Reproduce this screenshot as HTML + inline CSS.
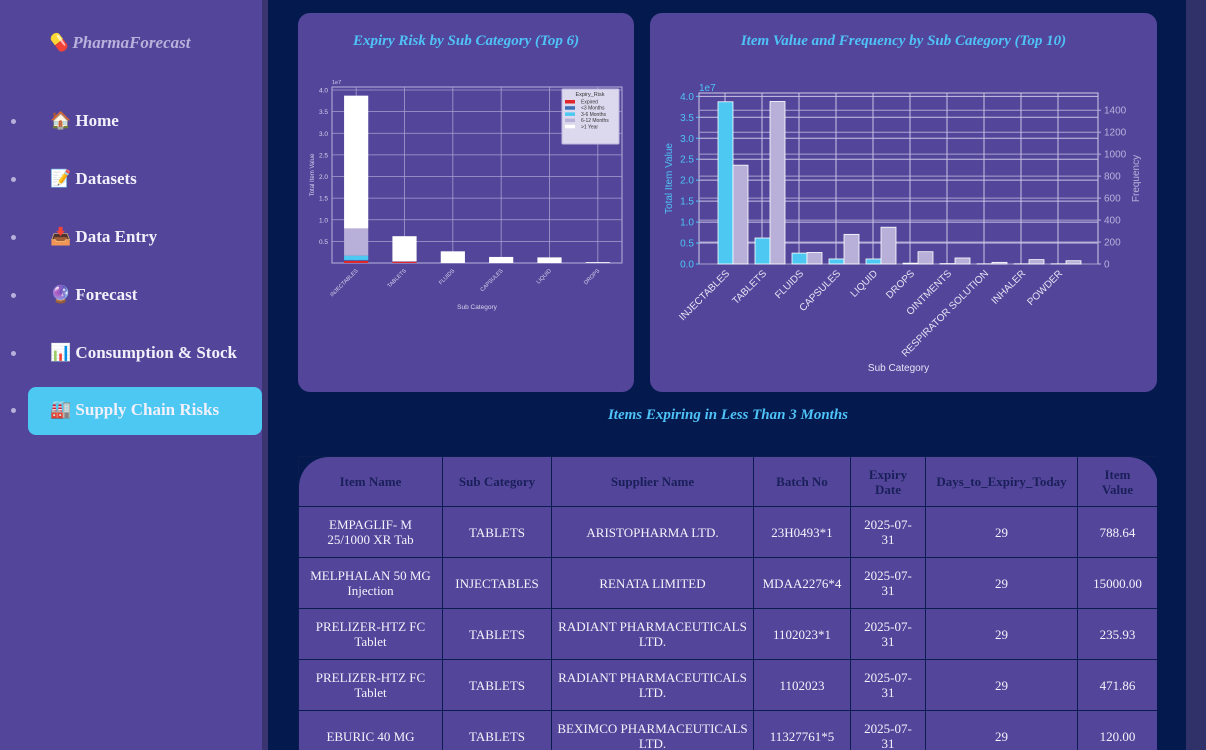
<!DOCTYPE html>
<html><head><meta charset="utf-8">
<style>
*{box-sizing:border-box;margin:0;padding:0}
html,body{width:1206px;height:750px;overflow:hidden}
body{background:#041a4f;font-family:"Liberation Serif","DejaVu Serif",serif;position:relative}
#sidebar{position:absolute;left:0;top:0;width:262px;height:750px;background:#53469a}
#divider{position:absolute;left:262px;top:0;width:6px;height:750px;background:#3a3570}
#rstrip{position:absolute;left:1186px;top:0;width:20px;height:750px;background:#2f3168}
.brand{position:absolute;left:47px;top:33px;font-size:17px;font-weight:bold;font-style:italic;color:#b9b0dc}
.nav{position:absolute;left:0;width:262px;height:48px;font-size:17px;color:#f2f0fa;font-weight:bold}
.nav .dot{position:absolute;left:11px;top:21px;width:5px;height:5px;border-radius:50%;background:#b9b0dc}
.nav .lbl{position:absolute;left:50px;top:13px;white-space:nowrap}
.nav.active .pill{position:absolute;left:28px;top:0;width:234px;height:48px;background:#4cc8f2;border-radius:8px}
.card{position:absolute;top:13px;height:379px;background:#53469a;border-radius:12px}
.ctitle{position:absolute;top:20px;width:100%;text-align:center;color:#4fc3f7;font-size:15px;font-weight:bold;font-style:italic}
svg text{font-family:"Liberation Sans",sans-serif}
#ttl{position:absolute;left:298px;width:860px;top:407px;text-align:center;color:#4fc3f7;font-weight:bold;font-style:italic;font-size:15px}
#tbl-wrap{position:absolute;left:298px;top:456px;width:859px;height:294px;overflow:hidden}
table{width:859px;border-collapse:collapse;table-layout:fixed;font-size:13px}
th,td{border:1.5px solid #0b1d4f;background:#53469a;text-align:center;vertical-align:middle;height:51px;line-height:15px;padding:0 2px}
th{color:#1a1f5a;font-weight:bold;height:50px}
td{color:#f4f2fb}
</style></head><body>
<div id="sidebar">
<div class="brand">💊 PharmaForecast</div>
<div class="nav" style="top:98px"><span class="dot"></span><span class="lbl">🏠 Home</span></div>
<div class="nav" style="top:156px"><span class="dot"></span><span class="lbl">📝 Datasets</span></div>
<div class="nav" style="top:214px"><span class="dot"></span><span class="lbl">📥 Data Entry</span></div>
<div class="nav" style="top:272px"><span class="dot"></span><span class="lbl">🔮 Forecast</span></div>
<div class="nav" style="top:330px"><span class="dot"></span><span class="lbl">📊 Consumption &amp; Stock</span></div>
<div class="nav active" style="top:387px"><span class="pill"></span><span class="dot"></span><span class="lbl" style="position:absolute">🏭 Supply Chain Risks</span></div>
</div>
<div id="divider"></div>
<div id="rstrip"></div>

<div class="card" style="left:298px;width:336px">
<div class="ctitle">Expiry Risk by Sub Category (Top 6)</div>
</div>
<div class="card" style="left:650px;width:507px">
<div class="ctitle">Item Value and Frequency by Sub Category (Top 10)</div>
</div>
<svg id="chart1" style="position:absolute;left:0;top:0" width="1206" height="400"></svg>

<div id="ttl">Items Expiring in Less Than 3 Months</div>
<div id="tbl-wrap">
<table>
<colgroup><col style="width:144px"><col style="width:109px"><col style="width:202px"><col style="width:97px"><col style="width:75px"><col style="width:152px"><col style="width:80px"></colgroup>
<tr><th style="border-top-left-radius:30px">Item Name</th><th>Sub Category</th><th>Supplier Name</th><th>Batch No</th><th>Expiry<br>Date</th><th>Days_to_Expiry_Today</th><th style="border-top-right-radius:30px">Item<br>Value</th></tr>
<tr><td>EMPAGLIF- M<br>25/1000 XR Tab</td><td>TABLETS</td><td>ARISTOPHARMA LTD.</td><td>23H0493*1</td><td>2025-07-<br>31</td><td>29</td><td>788.64</td></tr>
<tr><td>MELPHALAN 50 MG<br>Injection</td><td>INJECTABLES</td><td>RENATA LIMITED</td><td>MDAA2276*4</td><td>2025-07-<br>31</td><td>29</td><td>15000.00</td></tr>
<tr><td>PRELIZER-HTZ FC<br>Tablet</td><td>TABLETS</td><td>RADIANT PHARMACEUTICALS<br>LTD.</td><td>1102023*1</td><td>2025-07-<br>31</td><td>29</td><td>235.93</td></tr>
<tr><td>PRELIZER-HTZ FC<br>Tablet</td><td>TABLETS</td><td>RADIANT PHARMACEUTICALS<br>LTD.</td><td>1102023</td><td>2025-07-<br>31</td><td>29</td><td>471.86</td></tr>
<tr><td>EBURIC 40 MG</td><td>TABLETS</td><td>BEXIMCO PHARMACEUTICALS<br>LTD.</td><td>11327761*5</td><td>2025-07-<br>31</td><td>29</td><td>120.00</td></tr>
</table>
</div>

<script>
// Chart 1 data (units of 1e7)
const c1Cats=["INJECTABLES","TABLETS","FLUIDS","CAPSULES","LIQUID","DROPS"];
const c1Expired=[0.05,0.03,0,0,0,0];
const c1Lt3=[0.02,0,0,0,0,0];
const c1M36=[0.1,0,0,0,0,0];
const c1M612=[0.63,0.01,0,0,0,0];
const c1Gt1=[3.07,0.58,0.27,0.14,0.13,0.02];
const c1Ticks=[0.5,1.0,1.5,2.0,2.5,3.0,3.5,4.0];
// Chart 2 data
const c2Cats=["INJECTABLES","TABLETS","FLUIDS","CAPSULES","LIQUID","DROPS","OINTMENTS","RESPIRATOR  SOLUTION","INHALER","POWDER"];
const c2Value=[3.87,0.62,0.26,0.12,0.12,0.02,0.01,0.005,0.005,0.005];
const c2Freq=[900,1480,105,270,335,112,55,15,40,30];
const c2LeftTicks=[0,0.5,1.0,1.5,2.0,2.5,3.0,3.5,4.0];
const c2RightTicks=[0,200,400,600,800,1000,1200,1400];

const svg=document.getElementById('chart1');
const NS='http://www.w3.org/2000/svg';
function mk(tag,attrs,name,parent){const e=document.createElementNS(NS,tag);for(const k in attrs)e.setAttribute(k,attrs[k]);


(parent||svg).appendChild(e);return e;}
function txt(x,y,s,attrs,name){const t=mk('text',Object.assign({x:x,y:y},attrs),name);t.textContent=s;return t;}

// ---- Chart 1 ----
(function(){
const L=332,R=622,T=87,B=263,ymax=4.07;
const y=v=>B-v/ymax*(B-T);
const step=(R-L)/c1Cats.length;const x=i=>L+step*(i+0.5);const bw=step*0.5;
mk('rect',{x:L,y:T,width:R-L,height:B-T,fill:'#53469a',stroke:'#b9b0dc','stroke-width':1},'c1-plot-area');
c1Ticks.forEach(v=>{mk('line',{x1:L,x2:R,y1:y(v),y2:y(v),stroke:'#a79fd0','stroke-width':0.8},'c1-gridline');
txt(L-4,y(v)+2.5,v.toFixed(1),{'font-size':6.5,fill:'#d8d3ee','text-anchor':'end'},'c1-y-tick');});
c1Cats.forEach((c,i)=>{mk('line',{x1:x(i),x2:x(i),y1:T,y2:B,stroke:'#a79fd0','stroke-width':0.8},'c1-vgrid');});
txt(L,T-3,'1e7',{'font-size':5.5,fill:'#d8d3ee'},'c1-y-offset');
const series=[[c1Expired,'#e0262b'],[c1Lt3,'#3b6fb6'],[c1M36,'#4cc8f2'],[c1M612,'#b8b0d8'],[c1Gt1,'#ffffff']];
c1Cats.forEach((c,i)=>{let base=0;series.forEach(([arr,col])=>{const v=arr[i];if(v>0){mk('rect',{x:x(i)-bw/2,y:y(base+v),width:bw,height:y(base)-y(base+v),fill:col},'c1-bar-'+c.toLowerCase());}base+=v;});
txt(x(i)+2,B+8,c,{'font-size':5.5,fill:'#d8d3ee','text-anchor':'end',transform:`rotate(-45 ${x(i)+2} ${B+8})`},'c1-x-tick');});
txt((L+R)/2,B+46,'Sub Category',{'font-size':6.5,fill:'#d8d3ee','text-anchor':'middle'},'c1-x-title');
txt(314,(T+B)/2,'Total Item Value',{'font-size':6,fill:'#d8d3ee','text-anchor':'middle',transform:`rotate(-90 314 ${(T+B)/2})`},'c1-y-title');
const g=mk('g',{},'c1-legend');
mk('rect',{x:562,y:89,width:57,height:55,fill:'#dcd8ee',stroke:'#c0b8e0',rx:1},'c1-legend-box',g);
txt(590,96,'Expiry_Risk',{'font-size':5.5,fill:'#333','text-anchor':'middle'},'c1-legend-title');
const labels=['Expired','<3 Months','3-6 Months','6-12 Months','>1 Year'];
labels.forEach((l,k)=>{mk('rect',{x:565,y:100+k*6.2,width:10,height:3.5,fill:series[k][1]},'c1-legend-swatch',g);
txt(581,103.5+k*6.2,l,{'font-size':5,fill:'#333'},'c1-legend-label');});
})();

// ---- Chart 2 ----
(function(){
const L=699,R=1098,T=93,B=264,ymaxL=4.08,ymaxR=1557;
const yl=v=>B-v/ymaxL*(B-T), yr=v=>B-v/ymaxR*(B-T);
const x=i=>725+37*i; const bw=15;
mk('rect',{x:L,y:T,width:R-L,height:B-T,fill:'#53469a',stroke:'#d0cce6','stroke-width':1},'c2-plot-area');
c2LeftTicks.forEach(v=>{mk('line',{x1:L,x2:R,y1:yl(v),y2:yl(v),stroke:'#c8c3e4','stroke-width':1},'c2-gridline-left');
mk('line',{x1:L-3,x2:L,y1:yl(v),y2:yl(v),stroke:'#4fc3f7'},'c2-left-tickmark');
txt(L-5,yl(v)+3.5,v.toFixed(1),{'font-size':10,fill:'#4fc3f7','text-anchor':'end'},'c2-left-tick');});
c2RightTicks.forEach(v=>{mk('line',{x1:L,x2:R,y1:yr(v),y2:yr(v),stroke:'#a9a2cf','stroke-width':1},'c2-gridline-right');
mk('line',{x1:R,x2:R+3,y1:yr(v),y2:yr(v),stroke:'#b9b0dc'},'c2-right-tickmark');
txt(R+6,yr(v)+3.5,String(v),{'font-size':10,fill:'#b9b0dc'},'c2-right-tick');});
c2Cats.forEach((c,i)=>{mk('line',{x1:x(i),x2:x(i),y1:T,y2:B,stroke:'#c8c3e4','stroke-width':1},'c2-vgrid');});
txt(L,T-2,'1e7',{'font-size':10,fill:'#4fc3f7'},'c2-y-offset');
c2Cats.forEach((c,i)=>{
mk('rect',{x:x(i)-7,y:yl(c2Value[i]),width:bw,height:B-yl(c2Value[i]),fill:'#4cc8f2',stroke:'#ffffff','stroke-width':0.8},'c2-value-bar');
mk('rect',{x:x(i)+8,y:yr(c2Freq[i]),width:bw,height:B-yr(c2Freq[i]),fill:'#b8b0d8',stroke:'#ffffff','stroke-width':0.8},'c2-frequency-bar');
txt(x(i)+5,B+10,c,{'font-size':10,fill:'#e6e3f4','text-anchor':'end',transform:`rotate(-45 ${x(i)+5} ${B+10})`},'c2-x-tick');});
txt((L+R)/2,B+107,'Sub Category',{'font-size':10,fill:'#e6e3f4','text-anchor':'middle'},'c2-x-title');
txt(672,(T+B)/2,'Total Item Value',{'font-size':10,fill:'#4fc3f7','text-anchor':'middle',transform:`rotate(-90 672 ${(T+B)/2})`},'c2-left-title');
txt(1139,(T+B)/2,'Frequency',{'font-size':10,fill:'#b9b0dc','text-anchor':'middle',transform:`rotate(-90 1139 ${(T+B)/2})`},'c2-right-title');
})();
</script>
</body></html>
